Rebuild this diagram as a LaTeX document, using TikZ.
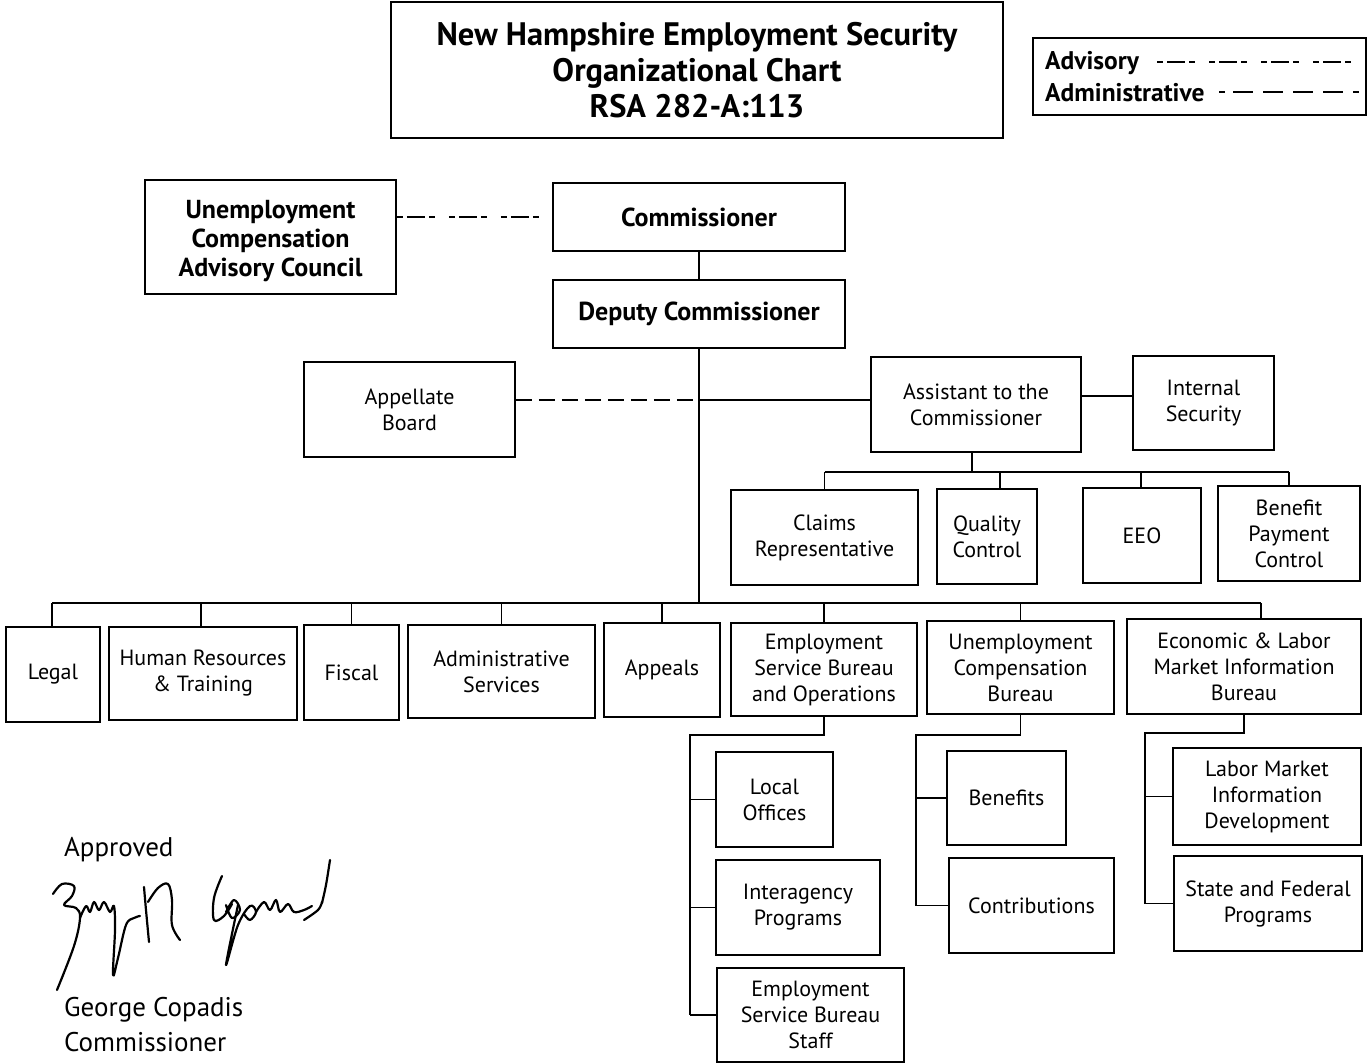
\documentclass[tikz,border=0pt]{standalone}
\usepackage{fontspec}
\setmainfont{PT Sans}
\begin{document}
\begin{tikzpicture}[x=1pt,y=-1pt,
  box/.style={draw, line width=1.8pt, align=center, inner sep=0pt,
    font=\fontsize{22}{26}\selectfont},
  bbox/.style={box, font=\bfseries\fontsize{26}{29}\selectfont},
  conn/.style={line width=1.8pt},
  advis/.style={line width=1.8pt, dash pattern=on 6pt off 4pt on 18pt off 4pt on 6pt off 14pt},
  admin/.style={line width=1.8pt, dash pattern=on 16pt off 7pt},
  lbl/.style={anchor=west, inner sep=0pt, font=\bfseries\fontsize{25.5}{29}\selectfont},
  sig/.style={anchor=west, inner sep=0pt, font=\fontsize{27}{32}\selectfont}]
\useasboundingbox[fill=white] (0,0) rectangle (1368,1064);

% title and legend
\node[box, minimum width=612pt, minimum height=136pt, font=\bfseries\fontsize{32.5}{36}\selectfont] (title) at (697,70)
  {New Hampshire Employment Security\\Organizational Chart\\RSA 282-A:113};
\node[box, minimum width=333pt, minimum height=77pt] (legend) at (1199.5,76.5) {};
\node[lbl] (ladv) at (1045,63) {Advisory};
\node[lbl] (ladm) at (1045,93) {Administrative};
\coordinate (la1) at (1157,62); \coordinate (la2) at (1362,62);
\coordinate (lb1) at (1219,92); \coordinate (lb2) at (1362,92);
\draw[advis] (la1) -- (la2);
\draw[line width=1.8pt, dash pattern=on 6pt off 8pt on 20pt off 10pt on 20pt off 10pt on 20pt off 10pt on 20pt off 10pt] (lb1) -- (lb2);

% top level
\node[bbox, minimum width=251pt, minimum height=114pt] (ucac) at (270.5,237)
  {\rule{0pt}{27pt}Unemployment\\Compensation\\Advisory Council};
\node[bbox, minimum width=292pt, minimum height=68pt] (comm) at (699,217) {Commissioner};
\node[bbox, minimum width=292pt, minimum height=68pt] (dep) at (699,314) {Deputy Commissioner};
\node[box, minimum width=211pt, minimum height=95pt] (app) at (409.5,409.5) {Appellate\\Board};
\node[box, minimum width=210pt, minimum height=95pt] (asst) at (976,404.5) {Assistant to the\\Commissioner};
\node[box, minimum width=141pt, minimum height=94pt] (isec) at (1203.5,403) {Internal\\Security};

% assistant staff
\node[box, minimum width=187pt, minimum height=95pt] (claims) at (824.5,537.5) {Claims\\Representative};
\node[box, minimum width=100pt, minimum height=95pt] (qc) at (987,536.5) {Quality\\Control};
\node[box, minimum width=118pt, minimum height=95pt] (eeo) at (1142,535.5) {EEO};
\node[box, minimum width=142pt, minimum height=95pt] (bpc) at (1289,533.5) {Benefit\\Payment\\Control};

% divisions
\node[box, minimum width=94pt, minimum height=95pt] (legal) at (53,674.5) {Legal};
\node[box, minimum width=188pt, minimum height=93pt] (hr) at (203,673.5) {Human Resources\\\& Training};
\node[box, minimum width=95pt, minimum height=95pt] (fiscal) at (351.5,672.5) {Fiscal};
\node[box, minimum width=187pt, minimum height=93pt] (adm) at (501.5,671.5) {Administrative\\Services};
\node[box, minimum width=116pt, minimum height=94pt] (appeals) at (662,670) {Appeals};
\node[box, minimum width=186pt, minimum height=93pt] (esb) at (824,669.5) {Employment\\Service Bureau\\and Operations};
\node[box, minimum width=187pt, minimum height=93pt] (ucb) at (1020.5,667.5) {Unemployment\\Compensation\\Bureau};
\node[box, minimum width=234pt, minimum height=95pt] (elmi) at (1244,666.5) {Economic \& Labor\\Market Information\\Bureau};

% sub units
\node[box, minimum width=117pt, minimum height=95pt] (local) at (774.5,799.5) {Local\\Offices};
\node[box, minimum width=164pt, minimum height=95pt] (inter) at (798,907.5) {Interagency\\Programs};
\node[box, minimum width=187pt, minimum height=94pt] (esbs) at (810.5,1015) {Employment\\Service Bureau\\Staff};
\node[box, minimum width=119pt, minimum height=94pt] (ben) at (1006.5,798) {Benefits};
\node[box, minimum width=165pt, minimum height=95pt] (contr) at (1031.5,905.5) {Contributions};
\node[box, minimum width=188pt, minimum height=97pt] (lmid) at (1267,796.5) {Labor Market\\Information\\Development};
\node[box, minimum width=188pt, minimum height=95pt] (sfp) at (1268,903.5) {State and Federal\\Programs};

% connectors
\draw[advis] (ucac.east |- comm.west) -- (comm.west);
\draw[conn] (comm.south) -- (dep.north);
\coordinate (ab) at (699,400);
\coordinate (bus) at (699,603);
\draw[conn] (dep.south) -- (dep.south |- bus);
\draw[admin] (app.east |- ab) -- (ab);
\draw[conn] (ab) -- (asst.west |- ab);
\coordinate (ai) at (1081,396);
\draw[conn] (asst.east |- ai) -- (isec.west |- ai);

\coordinate (abus) at (972,472);
\draw[conn] (asst.south -| abus) -- (abus);
\draw[conn] (claims.north |- abus) -- (bpc.north |- abus);
\foreach \n in {claims,bpc} \draw[conn] (\n.north |- abus) -- (\n.north);
\draw[conn] ([xshift=13pt]qc.north |- abus) -- ([xshift=13pt]qc.north);
\draw[conn] ([xshift=-1pt]eeo.north |- abus) -- ([xshift=-1pt]eeo.north);

\draw[conn] ([xshift=-1pt]legal.north |- bus) -- ([xshift=17pt]elmi.north |- bus);
\draw[conn] ([xshift=-1pt]legal.north |- bus) -- ([xshift=-1pt]legal.north);
\draw[conn] ([xshift=-2pt]hr.north |- bus) -- ([xshift=-2pt]hr.north);
\foreach \n in {fiscal,adm,appeals,esb,ucb} \draw[conn] (\n.north |- bus) -- (\n.north);
\draw[conn] ([xshift=17pt]elmi.north |- bus) -- ([xshift=17pt]elmi.north);

\coordinate (ej) at (690,735);
\draw[conn] (esb.south) |- (ej) -- (ej |- esbs.west);
\draw[conn] (ej |- local.west) -- (local.west);
\draw[conn] (ej |- inter.west) -- (inter.west);
\draw[conn] (ej |- esbs.west) -- (esbs.west);

\coordinate (uj) at (916,735);
\draw[conn] (ucb.south) |- (uj) -- (uj |- contr.west);
\draw[conn] (uj |- ben.west) -- (ben.west);
\draw[conn] (uj |- contr.west) -- (contr.west);

\coordinate (mj) at (1145,733);
\draw[conn] (elmi.south) |- (mj) -- (mj |- sfp.west);
\draw[conn] (mj |- lmid.west) -- (lmid.west);
\draw[conn] (mj |- sfp.west) -- (sfp.west);

% approval
\node[sig] (appr) at (64,850) {Approved};
\node[sig] (gname) at (64,1010) {George Copadis};
\node[sig] (gtitle) at (64,1042) {Commissioner};
\begin{scope}[line width=2.2pt, line cap=round, line join=round]
\draw plot[smooth, tension=0.6] coordinates {(53,894) (62,884) (74,886) (72,896) (64,905) (76,908) (80,918) (74,946) (57,990)};
\draw plot[smooth, tension=0.6] coordinates {(80,918) (86,906) (90,912) (94,902) (99,910) (104,902) (110,912) (114,906) (115,930) (113,975) (118,958) (126,925) (134,918) (140,916)};
\draw plot[smooth, tension=0.6] coordinates {(144,887) (146,910) (149,942)};
\draw plot[smooth, tension=0.6] coordinates {(148,902) (158,888) (168,884) (172,900) (172,925) (180,940)};
\draw plot[smooth, tension=0.6] coordinates {(222,876) (214,898) (214,920) (224,916) (232,904)};
\draw plot[smooth, tension=0.6] coordinates {(226,912) (234,900) (240,910) (232,918) (226,905)};
\draw plot[smooth, tension=0.6] coordinates {(238,905) (226,965) (238,925) (250,906) (256,912) (250,920) (244,914)};
\draw plot[smooth, tension=0.6] coordinates {(256,912) (264,902) (270,910) (276,900) (280,912) (288,904) (294,912) (304,910) (312,906)};
\draw plot[smooth, tension=0.6] coordinates {(304,920) (318,910) (322,902)};
\draw plot[smooth, tension=0.6] coordinates {(330,860) (326,885) (322,903)};
\end{scope}
\end{tikzpicture}
\end{document}
